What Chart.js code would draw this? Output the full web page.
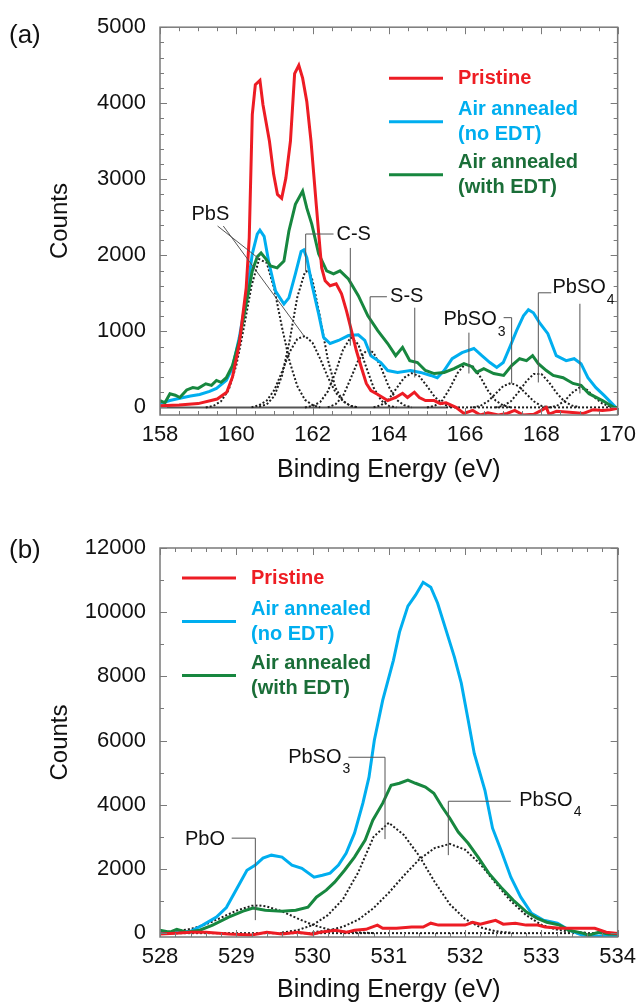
<!DOCTYPE html>
<html>
<head>
<meta charset="utf-8">
<title>XPS S 2p / O 1s</title>
<script src="https://cdn.jsdelivr.net/npm/chart.js@4.4.1/dist/chart.umd.min.js"></script>
<style>
  body { margin: 0; background: #fff; }
  .panel { position: absolute; left: 0; width: 643px; }
  #panelA { top: 0; height: 500px; }
  #panelB { top: 500px; height: 506px; }
</style>
</head>
<body>
<div class="panel" id="panelA"><canvas id="chartA"></canvas></div>
<div class="panel" id="panelB"><canvas id="chartB"></canvas></div>
<script>
// ---- panel (a): S 2p ----
const aTickX = [158, 160, 162, 164, 166, 168, 170];
const aTickY = [0, 1000, 2000, 3000, 4000, 5000];

const aPristineE = [158.0, 158.5, 159.0, 159.5, 159.75, 159.9, 160.08, 160.26, 160.34, 160.42, 160.5, 160.62, 160.7, 160.87, 160.98, 161.08, 161.19, 161.3, 161.42, 161.53, 161.64, 161.74, 161.85, 161.96, 162.1, 162.2, 162.24, 162.33, 162.46, 162.62, 162.76, 162.89, 163.02, 163.15, 163.28, 163.41, 163.53, 163.71, 163.97, 164.18, 164.36, 164.49, 164.67, 164.8, 164.96, 165.19, 165.35, 165.5, 165.76, 165.97, 166.2, 166.4, 166.6, 166.87, 167.1, 167.3, 167.53, 167.8, 168.0, 168.13, 168.2, 168.4, 168.65, 168.9, 169.1, 169.36, 169.6, 169.8, 170.0];
const aPristineCounts = [20, 30, 50, 110, 200, 400, 840, 1570, 2230, 3850, 4245, 4300, 3980, 3500, 3065, 2800, 2750, 3015, 3500, 4390, 4500, 4330, 4020, 3500, 2650, 2060, 1835, 1665, 1600, 1625, 1495, 1270, 1010, 745, 525, 315, 220, 170, 90, 130, 185, 130, 200, 130, 90, 90, 50, 60, 0, -80, -40, -100, -70, -100, -80, -40, -100, -90, -40, 0, -90, -50, -60, -70, -80, -30, -40, -30, -10];

const aNoEdtE = [158.0, 158.26, 158.52, 158.8, 159.04, 159.3, 159.48, 159.74, 159.9, 160.08, 160.26, 160.42, 160.55, 160.62, 160.73, 160.86, 161.03, 161.25, 161.38, 161.55, 161.7, 161.77, 161.85, 161.98, 162.16, 162.29, 162.46, 162.68, 162.94, 163.2, 163.37, 163.53, 163.79, 163.97, 164.23, 164.57, 164.83, 165.1, 165.27, 165.45, 165.66, 165.92, 166.23, 166.44, 166.65, 166.83, 167.0, 167.17, 167.35, 167.53, 167.66, 167.79, 167.95, 168.17, 168.39, 168.65, 168.86, 169.04, 169.22, 169.43, 169.65, 169.95];
const aNoEdtCounts = [50, 90, 120, 150, 170, 210, 250, 355, 520, 920, 1440, 2020, 2280, 2330, 2250, 1890, 1530, 1360, 1440, 1755, 2050, 2070, 1965, 1625, 1230, 920, 840, 880, 945, 955, 880, 680, 590, 485, 460, 485, 460, 420, 390, 485, 640, 720, 775, 680, 590, 525, 590, 790, 1010, 1205, 1285, 1245, 1115, 970, 680, 615, 640, 575, 390, 260, 155, 0];

const aEdtE = [158.0, 158.13, 158.26, 158.4, 158.52, 158.7, 158.86, 159.0, 159.2, 159.35, 159.48, 159.6, 159.74, 159.9, 160.08, 160.26, 160.42, 160.55, 160.65, 160.78, 160.9, 161.07, 161.25, 161.38, 161.55, 161.74, 161.85, 161.98, 162.16, 162.37, 162.55, 162.72, 162.94, 163.2, 163.45, 163.71, 163.97, 164.18, 164.36, 164.55, 164.75, 164.96, 165.19, 165.45, 165.71, 165.97, 166.18, 166.3, 166.49, 166.75, 167.01, 167.22, 167.43, 167.61, 167.77, 167.92, 168.13, 168.31, 168.57, 168.83, 169.04, 169.25, 169.6, 169.9, 170.0];
const aEdtCounts = [90, 60, 180, 160, 130, 230, 260, 250, 310, 290, 355, 330, 390, 550, 880, 1360, 1795, 1980, 2030, 1950, 1860, 1835, 1925, 2320, 2670, 2845, 2620, 2410, 2020, 1795, 1755, 1795, 1690, 1470, 1205, 1010, 840, 680, 790, 615, 590, 485, 445, 460, 510, 575, 535, 460, 510, 445, 420, 550, 640, 615, 680, 575, 485, 420, 390, 315, 290, 180, 90, 0, 0];

// fitted components (dotted)
const aPbS1E = [159.2, 159.4, 159.6, 159.8, 160.0, 160.2, 160.4, 160.6, 160.8, 161.0, 161.2, 161.4, 161.6, 161.8, 162.0, 162.2];
const aPbS1Counts = [0, 20, 80, 230, 550, 1050, 1600, 1950, 1900, 1550, 1050, 600, 280, 100, 30, 0];
const aPbS2E = [160.4, 160.6, 160.8, 161.0, 161.2, 161.4, 161.6, 161.8, 162.0, 162.2, 162.4, 162.6, 162.8, 163.0, 163.2];
const aPbS2Counts = [0, 30, 90, 230, 470, 730, 900, 940, 850, 640, 400, 200, 80, 20, 0];
const aCS1E = [160.6, 160.8, 161.0, 161.2, 161.4, 161.6, 161.8, 161.9, 162.0, 162.2, 162.4, 162.6, 162.8, 163.0, 163.2];
const aCS1Counts = [10, 40, 150, 420, 880, 1450, 1780, 1800, 1670, 1180, 630, 260, 80, 20, 0];
const aCS2E = [161.8, 162.0, 162.2, 162.4, 162.6, 162.8, 163.0, 163.2, 163.4, 163.6, 163.8, 164.0, 164.2];
const aCS2Counts = [0, 20, 70, 210, 460, 760, 920, 830, 540, 260, 90, 20, 0];
const aSS1E = [162.4, 162.6, 162.8, 163.0, 163.2, 163.4, 163.5, 163.6, 163.8, 164.0, 164.2, 164.4, 164.6];
const aSS1Counts = [0, 40, 150, 380, 620, 740, 750, 720, 520, 270, 100, 30, 0];
const aSS2E = [163.6, 163.8, 164.0, 164.2, 164.4, 164.6, 164.8, 165.0, 165.2, 165.4, 165.6, 165.8];
const aSS2Counts = [0, 30, 110, 250, 390, 450, 410, 280, 140, 50, 10, 0];
const aSO3aE = [165.0, 165.2, 165.4, 165.6, 165.8, 166.0, 166.2, 166.4, 166.6, 166.8, 167.0, 167.2];
const aSO3aCounts = [0, 20, 90, 250, 450, 570, 540, 400, 220, 90, 25, 0];
const aSO3bE = [166.2, 166.4, 166.6, 166.8, 167.0, 167.2, 167.4, 167.6, 167.8, 168.0, 168.2];
const aSO3bCounts = [0, 20, 80, 180, 280, 320, 280, 180, 80, 20, 0];
const aSO4aE = [166.8, 167.0, 167.2, 167.4, 167.6, 167.8, 168.0, 168.2, 168.4, 168.6, 168.8, 169.0];
const aSO4aCounts = [0, 20, 80, 200, 340, 440, 440, 330, 190, 80, 25, 0];
const aSO4bE = [168.2, 168.4, 168.6, 168.8, 169.0, 169.2, 169.4, 169.6, 169.8, 170.0];
const aSO4bCounts = [0, 20, 80, 190, 260, 230, 130, 50, 10, 0];

// ---- panel (b): O 1s ----
const bTickX = [528, 529, 530, 531, 532, 533, 534];
const bTickY = [0, 2000, 4000, 6000, 8000, 10000, 12000];

const bPristineE = [528.0, 528.2, 528.4, 528.6, 528.9, 529.2, 529.4, 529.6, 529.8, 530.0, 530.1, 530.3, 530.45, 530.55, 530.7, 530.85, 530.92, 531.1, 531.3, 531.45, 531.55, 531.65, 531.85, 532.0, 532.1, 532.2, 532.3, 532.4, 532.5, 532.66, 532.8, 532.95, 533.05, 533.25, 533.4, 533.55, 533.7, 533.85, 534.0];
const bPristineCounts = [-30, 0, 30, 30, -30, -60, 30, -30, 30, -30, 30, 90, 30, 90, 120, 250, 150, 150, 190, 190, 310, 250, 250, 250, 340, 280, 340, 400, 280, 310, 250, 250, 190, 150, 150, 150, 150, 30, -10];

const bNoEdtE = [528.0, 528.2, 528.4, 528.56, 528.74, 528.87, 529.01, 529.14, 529.25, 529.35, 529.46, 529.6, 529.73, 529.86, 530.02, 530.13, 530.23, 530.34, 530.44, 530.55, 530.66, 530.74, 530.81, 530.92, 531.06, 531.14, 531.25, 531.35, 531.45, 531.55, 531.64, 531.75, 531.86, 531.95, 532.04, 532.12, 532.26, 532.36, 532.47, 532.6, 532.73, 532.87, 533.03, 533.21, 533.37, 533.53, 533.7, 534.0];
const bNoEdtCounts = [20, 10, 60, 250, 500, 800, 1400, 1960, 2120, 2340, 2430, 2370, 2120, 2020, 1745, 1805, 1870, 2120, 2490, 3115, 4050, 4860, 6010, 7260, 8500, 9380, 10190, 10530, 10930, 10780, 10280, 9440, 8600, 7790, 6640, 5600, 4450, 3270, 2590, 1745, 1120, 620, 400, 310, 90, -60, -90, -90];

const bEdtE = [528.0, 528.13, 528.22, 528.35, 528.52, 528.69, 528.9, 529.09, 529.22, 529.38, 529.6, 529.78, 529.94, 530.05, 530.18, 530.29, 530.42, 530.55, 530.69, 530.79, 530.92, 531.03, 531.14, 531.25, 531.35, 531.48, 531.59, 531.7, 531.8, 531.91, 532.04, 532.17, 532.31, 532.47, 532.63, 532.81, 532.94, 533.07, 533.24, 533.36, 533.54, 533.62, 533.75, 533.88, 534.0];
const bEdtCounts = [90, 30, 120, 30, 90, 250, 500, 685, 780, 715, 685, 715, 810, 1120, 1340, 1590, 1960, 2370, 2900, 3520, 4050, 4610, 4670, 4770, 4670, 4550, 4360, 3930, 3580, 3150, 2800, 2370, 1870, 1430, 1030, 650, 470, 340, 250, 90, 0, -60, 30, -30, -30];

const bPbOE = [528.0, 528.2, 528.4, 528.6, 528.8, 529.0, 529.2, 529.3, 529.4, 529.6, 529.8, 530.0, 530.2, 530.4, 530.6, 530.8];
const bPbOCounts = [30, 60, 130, 270, 480, 700, 850, 860, 830, 680, 460, 260, 120, 50, 20, 0];
const bSO3E = [529.6, 529.8, 530.0, 530.2, 530.4, 530.6, 530.8, 531.0, 531.2, 531.4, 531.6, 531.8, 532.0, 532.2, 532.4, 532.6];
const bSO3Counts = [20, 90, 250, 560, 1060, 1900, 3000, 3440, 3050, 2400, 1600, 900, 440, 180, 60, 10];
const bSO4E = [530.0, 530.2, 530.4, 530.6, 530.8, 531.0, 531.2, 531.4, 531.6, 531.8, 532.0, 532.2, 532.4, 532.6, 532.8, 533.0, 533.2, 533.4, 533.6];
const bSO4Counts = [30, 80, 200, 420, 780, 1260, 1800, 2300, 2650, 2780, 2600, 2150, 1560, 1000, 560, 260, 110, 40, 10];

const FONT = "'Liberation Sans', Arial, sans-serif";
const RED = '#ed1c24';
const BLUE = '#00aeef';
const GREEN = '#17873f';
const DOT = '#1e1e1e';

function pairs(xs, ys) {
    return xs.map((x, i) => ({ x: x, y: ys[i] }));
}

function curve(label, xs, ys, color) {
    return { label: label, data: pairs(xs, ys), borderColor: color, borderWidth: 3, pointRadius: 0, fill: false };
}

function fitLine(xs, ys) {
    return { label: 'fit', data: pairs(xs, ys), borderColor: DOT, borderWidth: 2, borderDash: [2, 2], pointRadius: 0, fill: false };
}

// Labels, leader lines, legend, frame with inward ticks
const decorPlugin = {
    id: 'decor',
    afterDatasetsDraw(chart, args, opts) {
        const ctx = chart.ctx;
        const area = chart.chartArea;
        const sx = chart.scales.x;
        const sy = chart.scales.y;
        ctx.save();

        // peak labels with leader lines
        opts.notes.forEach(n => {
            ctx.strokeStyle = '#555';
            ctx.lineWidth = 1;
            n.lines.forEach(path => {
                ctx.beginPath();
                path.forEach((p, i) => {
                    const px = sx.getPixelForValue(p[0]);
                    const py = sy.getPixelForValue(p[1]);
                    if (i === 0) ctx.moveTo(px, py); else ctx.lineTo(px, py);
                });
                ctx.stroke();
            });
            const tx = sx.getPixelForValue(n.at[0]);
            const ty = sy.getPixelForValue(n.at[1]);
            ctx.fillStyle = '#111';
            ctx.font = '20px ' + FONT;
            ctx.textAlign = 'center';
            ctx.textBaseline = 'middle';
            ctx.fillText(n.text, tx, ty);
            if (n.sub) {
                const w = ctx.measureText(n.text).width;
                ctx.font = '14px ' + FONT;
                ctx.textAlign = 'left';
                ctx.fillText(n.sub, tx + w / 2 + 1, ty + 12);
            }
        });

        // legend
        const lg = opts.legend;
        lg.items.forEach(item => {
            const ds = chart.data.datasets[item.dataset];
            const y0 = area.top + item.y;
            const lineY = y0 + (item.text.length - 1) * lg.lineHeight / 2;
            const x0 = area.left + lg.x;
            ctx.strokeStyle = ds.borderColor;
            ctx.lineWidth = 3;
            ctx.beginPath();
            ctx.moveTo(x0, lineY);
            ctx.lineTo(x0 + lg.lineLength, lineY);
            ctx.stroke();
            ctx.fillStyle = item.color;
            ctx.font = 'bold 20px ' + FONT;
            ctx.textAlign = 'left';
            ctx.textBaseline = 'middle';
            item.text.forEach((t, i) => {
                ctx.fillText(t, x0 + lg.lineLength + lg.gap, y0 + i * lg.lineHeight);
            });
        });

        // frame
        ctx.strokeStyle = '#7a7a7a';
        ctx.lineWidth = 1.5;
        ctx.strokeRect(area.left, area.top, area.right - area.left, area.bottom - area.top);

        // inward ticks on all sides
        ctx.lineWidth = 1;
        ctx.beginPath();
        const nx = Math.round((sx.max - sx.min) / opts.xStep);
        for (let i = 0; i <= nx; i++) {
            const v = sx.min + i * opts.xStep;
            const len = opts.xMajor.some(m => Math.abs(m - v) < 1e-6) ? 7 : 4;
            const px = Math.round(sx.getPixelForValue(v)) + 0.5;
            ctx.moveTo(px, area.bottom); ctx.lineTo(px, area.bottom - len);
            ctx.moveTo(px, area.top); ctx.lineTo(px, area.top + len);
        }
        const ny = Math.round(sy.max / opts.yStep);
        for (let i = 0; i <= ny; i++) {
            const v = i * opts.yStep;
            const len = opts.yMajor.some(m => Math.abs(m - v) < 1e-6) ? 7 : 4;
            const py = Math.round(sy.getPixelForValue(v)) + 0.5;
            ctx.moveTo(area.left, py); ctx.lineTo(area.left + len, py);
            ctx.moveTo(area.right, py); ctx.lineTo(area.right - len, py);
        }
        ctx.stroke();

        // panel letter
        ctx.fillStyle = '#111';
        ctx.font = '26px ' + FONT;
        ctx.textAlign = 'left';
        ctx.textBaseline = 'middle';
        ctx.fillText(opts.letter, 9, opts.letterY);
        ctx.restore();
    }
};

function makeOptions(cfg) {
    return {
        responsive: true,
        maintainAspectRatio: false,
        animation: false,
        layout: { padding: { left: 0, right: 21, top: cfg.top, bottom: 0 } },
        scales: {
            x: {
                type: 'linear',
                min: cfg.xMin,
                max: cfg.xMax,
                afterBuildTicks: s => { s.ticks = cfg.xTicks.map(v => ({ value: v })); },
                afterFit: s => { s.height = cfg.xHeight; },
                ticks: { color: '#111', font: { family: FONT, size: 22 }, padding: 7, maxRotation: 0, autoSkip: false, callback: v => String(v) },
                grid: { display: false, drawTicks: false },
                border: { display: false },
                title: { display: true, text: 'Binding Energy (eV)', color: '#111', font: { family: FONT, size: 25 }, padding: { top: 0, bottom: cfg.xTitlePad } }
            },
            y: {
                type: 'linear',
                min: cfg.yMin,
                max: cfg.yMax,
                afterBuildTicks: s => { s.ticks = cfg.yTicks.map(v => ({ value: v })); },
                afterFit: s => { s.width = 160; },
                ticks: { color: '#111', font: { family: FONT, size: 22 }, padding: 14, autoSkip: false, callback: v => String(v) },
                grid: { display: false, drawTicks: false },
                border: { display: false },
                title: { display: true, text: 'Counts', color: '#111', font: { family: FONT, size: 24 }, padding: { top: 46, bottom: 0 } }
            }
        },
        plugins: {
            legend: { display: false },
            tooltip: { enabled: false },
            decor: cfg.decor
        }
    };
}

const legendItemsA = [
    { dataset: 0, y: 51, text: ['Pristine'], color: '#ee1d23' },
    { dataset: 2, y: 82, text: ['Air annealed', '(no EDT)'], color: '#00aeef' },
    { dataset: 1, y: 135, text: ['Air annealed', '(with EDT)'], color: '#1a6e38' }
];
const legendItemsB = [
    { dataset: 0, y: 30, text: ['Pristine'], color: '#ee1d23' },
    { dataset: 2, y: 61, text: ['Air annealed', '(no EDT)'], color: '#00aeef' },
    { dataset: 1, y: 115, text: ['Air annealed', '(with EDT)'], color: '#1a6e38' }
];

new Chart(document.getElementById('chartA'), {
    type: 'line',
    data: {
        datasets: [
            curve('Pristine', aPristineE, aPristineCounts, RED),
            curve('Air annealed (with EDT)', aEdtE, aEdtCounts, GREEN),
            curve('Air annealed (no EDT)', aNoEdtE, aNoEdtCounts, BLUE),
            fitLine(aPbS1E, aPbS1Counts),
            fitLine(aPbS2E, aPbS2Counts),
            fitLine(aCS1E, aCS1Counts),
            fitLine(aCS2E, aCS2Counts),
            fitLine(aSS1E, aSS1Counts),
            fitLine(aSS2E, aSS2Counts),
            fitLine(aSO3aE, aSO3aCounts),
            fitLine(aSO3bE, aSO3bCounts),
            fitLine(aSO4aE, aSO4aCounts),
            fitLine(aSO4bE, aSO4bCounts),
            { label: 'base', data: pairs([158, 165.5], [0, 0]), borderColor: '#555', borderWidth: 2, pointRadius: 0 },
            fitLine([165.5, 170], [0, 0])
        ]
    },
    options: makeOptions({
        top: 25.7, xMin: 158, xMax: 170, yMin: -100, yMax: 5000,
        xTicks: aTickX, yTicks: aTickY, xHeight: 85, xTitlePad: 15,
        decor: {
            letter: '(a)', letterY: 36,
            xStep: 0.5, yStep: 200, xMajor: aTickX, yMajor: aTickY,
            legend: { x: 229, lineLength: 54, gap: 15, lineHeight: 25, items: legendItemsA },
            notes: [
                { text: 'PbS', at: [159.32, 2543], lines: [[[159.51, 2385], [160.6, 1953]], [[159.66, 2385], [161.77, 944]]] },
                { text: 'C-S', at: [163.08, 2280], lines: [[[162.55, 2280], [161.82, 2280], [161.82, 1795]], [[162.99, 2097], [162.99, 812]]] },
                { text: 'S-S', at: [164.47, 1455], lines: [[[163.95, 1455], [163.51, 1455], [163.51, 681]], [[164.68, 1311], [164.68, 393]]] },
                { text: 'PbSO', sub: '3', at: [166.13, 1153], lines: [[[166.1, 983], [166.1, 446]], [[167.01, 1180], [167.22, 1180], [167.22, 315]]] },
                { text: 'PbSO', sub: '4', at: [168.99, 1573], lines: [[[168.26, 1507], [167.92, 1507], [167.92, 328]], [[169.01, 1363], [169.01, 183]]] }
            ]
        }
    }),
    plugins: [decorPlugin]
});

new Chart(document.getElementById('chartB'), {
    type: 'line',
    data: {
        datasets: [
            curve('Pristine', bPristineE, bPristineCounts, RED),
            curve('Air annealed (with EDT)', bEdtE, bEdtCounts, GREEN),
            curve('Air annealed (no EDT)', bNoEdtE, bNoEdtCounts, BLUE),
            fitLine(bPbOE, bPbOCounts),
            fitLine(bSO3E, bSO3Counts),
            fitLine(bSO4E, bSO4Counts),
            fitLine([528, 534], [0, 0])
        ]
    },
    options: makeOptions({
        top: 48, xMin: 528, xMax: 534, yMin: -120, yMax: 12000,
        xTicks: bTickX, yTicks: bTickY, xHeight: 69, xTitlePad: 1,
        decor: {
            letter: '(b)', letterY: 51,
            xStep: 0.2, yStep: 1000, xMajor: bTickX, yMajor: bTickY,
            legend: { x: 22, lineLength: 54, gap: 15, lineHeight: 25, items: legendItemsB },
            notes: [
                { text: 'PbSO', sub: '3', at: [530.03, 5480], lines: [[[530.47, 5480], [530.95, 5480], [530.95, 2930]]] },
                { text: 'PbSO', sub: '4', at: [533.06, 4140], lines: [[[532.6, 4110], [531.78, 4110], [531.78, 2430]]] },
                { text: 'PbO', at: [528.59, 2930], lines: [[[528.94, 2960], [529.25, 2960], [529.25, 405]]] }
            ]
        }
    }),
    plugins: [decorPlugin]
});
</script>
</body>
</html>
